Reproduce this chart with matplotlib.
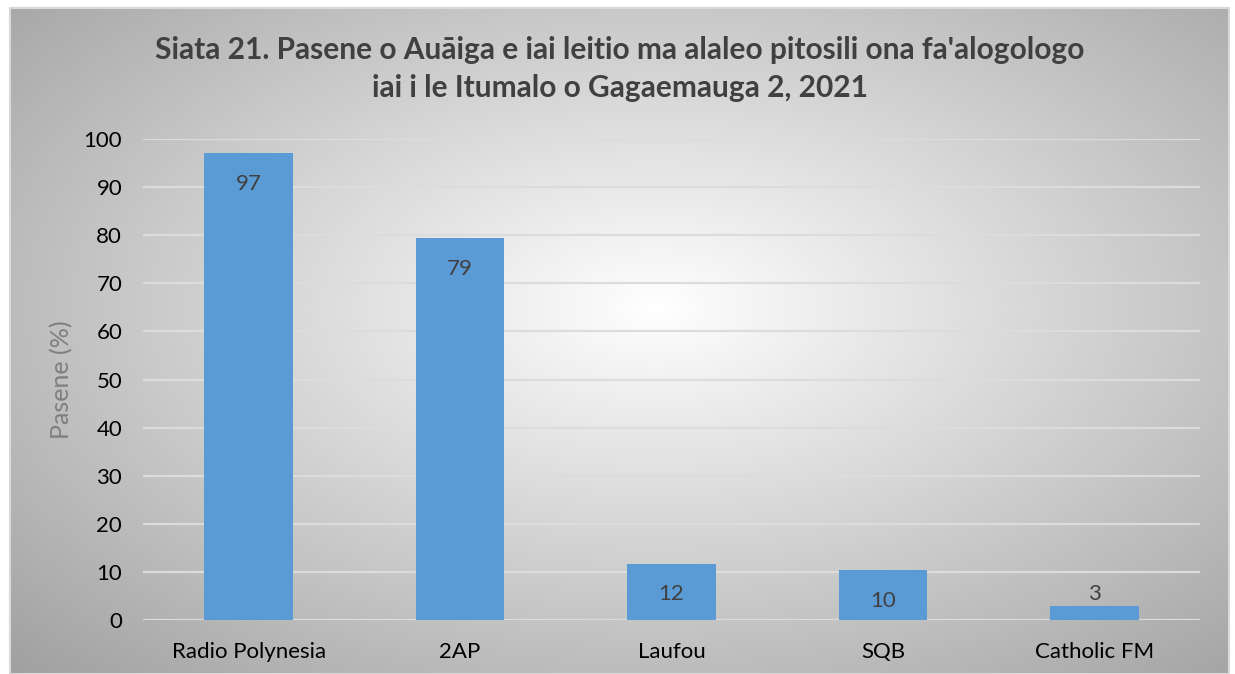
import numpy as np
import matplotlib
matplotlib.use("Agg")
import matplotlib.pyplot as plt

categories = ["Radio Polynesia", "2AP", "Laufou", "SQB", "Catholic FM"]
values = [97.1, 79.4, 11.7, 10.3, 2.9]
labels = ["97", "79", "12", "10", "3"]
yticks = list(range(0, 101, 10))
title = "Siata 21. Pasene o Auāiga e iai leitio ma alaleo pitosili ona fa'alogologo\niai i le Itumalo o Gagaemauga 2, 2021"
ylabel = "Pasene (%)"

plt.rcParams['font.family'] = ['Lato', 'DejaVu Sans']

W, H = 1235, 674
fig = plt.figure(figsize=(W / 100, H / 100), dpi=100)
fig.patch.set_facecolor("white")

# background gradient panel
bx0, by0, bx1, by1 = 10, 8, 1229, 674
bg = fig.add_axes([bx0 / W, 1 - by1 / H, (bx1 - bx0) / W, (by1 - by0) / H])
ny, nx = 300, 600
yy, xx = np.mgrid[0:1:ny * 1j, 0:1:nx * 1j]
r = np.sqrt(((xx - 0.53) / 0.53) ** 2 + ((yy - 0.45) / 0.55) ** 2) / np.sqrt(2)
r = np.clip(r, 0, 1)
val = (255 - (255 - 160) * r) / 255.0
img = np.dstack([val, val, val])
bg.imshow(img, aspect="auto", extent=[0, 1, 0, 1], origin="upper")
bg.set_xlim(0, 1)
bg.set_ylim(0, 1)
bg.axis("off")
bg.add_patch(plt.Rectangle((0, 0), 1, 1, transform=bg.transAxes, fill=False,
                           edgecolor="#d9d9d9", lw=1.5, clip_on=False))

# plot axes
px0, px1, py_top, py_bot = 143, 1200, 139, 620
ax = fig.add_axes([px0 / W, 1 - py_bot / H, (px1 - px0) / W, (py_bot - py_top) / H])
ax.set_facecolor("none")
x = np.arange(len(categories))
ax.bar(x, values, width=0.42, color="#5B9BD5", zorder=3)
ax.set_xlim(-0.5, len(categories) - 0.5)
ax.set_ylim(0, 100)
ax.set_yticks(yticks)
ax.set_xticks(x)
ax.set_xticklabels(categories, fontsize=16, color="#000000")
ax.tick_params(axis="y", labelsize=16, colors="#000000", length=0, pad=15)
ax.tick_params(axis="x", length=0, pad=16)
ax.grid(axis="y", color="#dcdcdc", lw=1.6, zorder=0)
ax.set_axisbelow(True)
for s in ax.spines.values():
    s.set_visible(False)
ax.set_ylabel(ylabel, fontsize=18, color="#7f7f7f")
ax.yaxis.set_label_coords(-0.066, 0.5)

for xi, v, lab in zip(x, values, labels):
    if v > 8:
        ax.text(xi, v - 4.3, lab, ha="center", va="top", fontsize=16, color="#404040", zorder=4)
    else:
        ax.text(xi, v + 0.4, lab, ha="center", va="bottom", fontsize=16, color="#404040", zorder=4)

fig.text(620 / W, 1 - 69 / H, title, ha="center", va="center", fontsize=21.5,
         fontweight="bold", color="#404040", linespacing=1.45)

fig.savefig("out.png", dpi=100)
